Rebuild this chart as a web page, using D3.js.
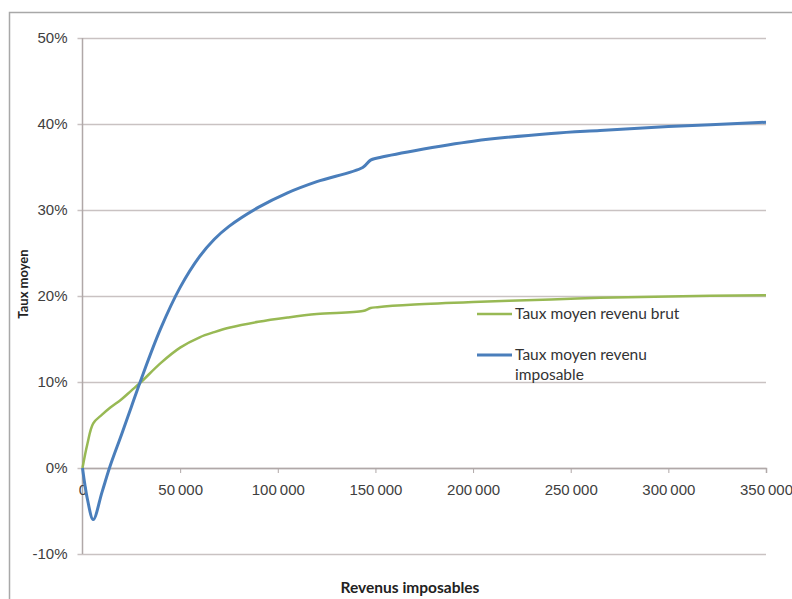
<!DOCTYPE html>
<html>
<head>
<meta charset="utf-8">
<script src="https://cdn.jsdelivr.net/npm/d3@7"></script>
<style>
  html, body { margin: 0; padding: 0; background: #fff; }
  svg { display: block; font-family: Lato, "Open Sans", sans-serif; }
</style>
</head>
<body>
<svg id="chart" width="792" height="599"></svg>
<script>
// ---- data ----
const revenus = [0, 2500, 5500, 10000, 14100, 20000, 25000, 30000, 40000, 50000, 60000, 67500, 75000, 90000, 105000, 120000, 143500, 147500, 151000, 170000, 200000, 240000, 265000, 300000, 350000];
const tauxImposable = [0, -3.6, -6.0, -2.8, 0.2, 3.9, 7.1, 10.3, 16.2, 21.0, 24.6, 26.6, 28.1, 30.3, 32.0, 33.3, 34.95, 35.8, 36.05, 36.9, 38.0, 38.9, 39.25, 39.7, 40.2];
const tauxBrut = [0, 2.8, 5.2, 6.2, 7.0, 8.0, 9.0, 10.0, 12.2, 14.0, 15.2, 15.8, 16.3, 17.0, 17.5, 17.9, 18.25, 18.6, 18.7, 19.0, 19.3, 19.6, 19.8, 19.95, 20.1];
const xTicks = [0, 50000, 100000, 150000, 200000, 250000, 300000, 350000];
const yTicks = [-10, 0, 10, 20, 30, 40, 50];
const seriesNames = ["Taux moyen revenu brut", "Taux moyen revenu imposable"];
const seriesColors = ["#98b954", "#4a7ebb"];

// ---- drawing ----
const svg = d3.select("#chart");
const fmt = d3.formatLocale({decimal: ",", thousands: "\u2009", grouping: [3], currency: ["", " €"]}).format(",d");

const x = d3.scaleLinear().domain([0, 350000]).range([82.5, 766]);
const y = d3.scaleLinear().domain([-10, 50]).range([554, 38]);

// outer border
svg.append("rect").attr("x", 9.5).attr("y", 12.5).attr("width", 800).attr("height", 700)
  .attr("fill", "none").attr("stroke", "#a8a8a8").attr("stroke-width", 1.5);

// gridlines + y axis
const yAxis = d3.axisLeft(y).tickValues(yTicks).tickFormat(d => d + "%").tickPadding(10);
const gy = svg.append("g").attr("transform", "translate(82.5,0)").call(yAxis);
gy.select(".domain").remove();
gy.selectAll(".tick line").attr("x1", -5).attr("x2", 766 - 82.5)
  .attr("stroke", "#c9c2c2").attr("stroke-width", 1.5);
gy.selectAll(".tick text").attr("fill", "#404040").style("font-size", "15px").attr("x", -15);

// vertical axis line
svg.append("line").attr("x1", 82.5).attr("x2", 82.5).attr("y1", y(50)).attr("y2", y(-10))
  .attr("stroke", "#b0a8a8").attr("stroke-width", 1.5);

// x axis at 0
const xAxis = d3.axisBottom(x).tickValues(xTicks).tickFormat(d => fmt(d)).tickSize(5).tickPadding(11);
const gx = svg.append("g").attr("transform", `translate(0,${y(0)})`).call(xAxis);
gx.select(".domain").attr("stroke", "#b0a8a8").attr("stroke-width", 1.5);
gx.selectAll(".tick line").attr("stroke", "#b0a8a8");
gx.selectAll(".tick text").attr("fill", "#404040").style("font-size", "15px");

// lines
const line = (vals) => d3.line()
  .x((d, i) => x(revenus[i]))
  .y(d => y(d))
  .curve(d3.curveCatmullRom.alpha(0.5))(vals);

svg.append("path").attr("d", line(tauxBrut)).attr("fill", "none")
  .attr("stroke", seriesColors[0]).attr("stroke-width", 2.5);
svg.append("path").attr("d", line(tauxImposable)).attr("fill", "none")
  .attr("stroke", seriesColors[1]).attr("stroke-width", 3);

// legend
const leg = svg.append("g");
leg.append("line").attr("x1", 477).attr("x2", 512).attr("y1", 314).attr("y2", 314)
  .attr("stroke", seriesColors[0]).attr("stroke-width", 2.5);
leg.append("text").attr("x", 515).attr("y", 319).attr("fill", "#333").style("font-size", "15.5px")
  .text(seriesNames[0]);
leg.append("line").attr("x1", 477).attr("x2", 512).attr("y1", 355).attr("y2", 355)
  .attr("stroke", seriesColors[1]).attr("stroke-width", 3);
const t2 = leg.append("text").attr("x", 515).attr("y", 360).attr("fill", "#333").style("font-size", "15.5px");
t2.append("tspan").attr("x", 515).text("Taux moyen revenu");
t2.append("tspan").attr("x", 515).attr("dy", 20).text("imposable");

// axis titles
svg.append("text").attr("x", 410).attr("y", 593).attr("text-anchor", "middle")
  .attr("fill", "#222").style("font-size", "15.5px").style("font-weight", "bold")
  .text("Revenus imposables");
svg.append("text").attr("transform", "translate(28,284) rotate(-90)").attr("text-anchor", "middle")
  .attr("fill", "#222").style("font-size", "13px").style("font-weight", "bold")
  .text("Taux moyen");
</script>
</body>
</html>
